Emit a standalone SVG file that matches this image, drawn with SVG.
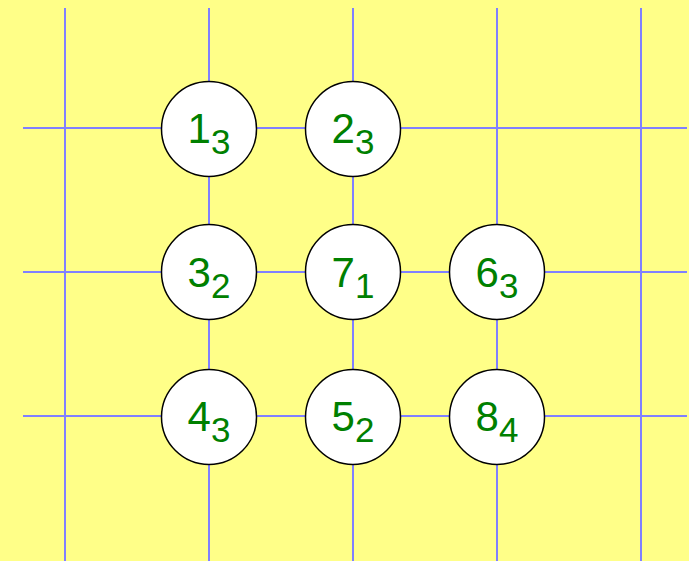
<svg xmlns="http://www.w3.org/2000/svg" width="689" height="561" viewBox="0 0 689 561">
<style>
.grid line{stroke:#8080ff;stroke-width:2}
.node circle{fill:#fff;stroke:#000;stroke-width:1.5}
.node text{font-family:"Liberation Sans",Arial,sans-serif;font-size:42px;fill:#008000;text-anchor:middle}
.node tspan{font-size:35px}
</style>
<rect width="689" height="561" fill="#ffff88"/>
<g id="connectors" class="grid">
<line x1="65" y1="8" x2="65" y2="561"/>
<line x1="209" y1="8" x2="209" y2="561"/>
<line x1="353" y1="8" x2="353" y2="561"/>
<line x1="497" y1="8" x2="497" y2="561"/>
<line x1="641" y1="8" x2="641" y2="561"/>
<line x1="23" y1="128" x2="687" y2="128"/>
<line x1="23" y1="272" x2="687" y2="272"/>
<line x1="23" y1="416" x2="687" y2="416"/>
</g>
<g id="n1" class="node"><circle cx="209" cy="129" r="47.5"/><text x="209" y="143">1<tspan dy="11">3</tspan></text></g>
<g id="n2" class="node"><circle cx="353" cy="129" r="47.5"/><text x="353" y="143">2<tspan dy="11">3</tspan></text></g>
<g id="n3" class="node"><circle cx="209" cy="272" r="47.5"/><text x="209" y="287">3<tspan dy="11">2</tspan></text></g>
<g id="n7" class="node"><circle cx="353" cy="272" r="47.5"/><text x="353" y="287">7<tspan dy="11">1</tspan></text></g>
<g id="n6" class="node"><circle cx="497" cy="272" r="47.5"/><text x="497" y="287">6<tspan dy="11">3</tspan></text></g>
<g id="n4" class="node"><circle cx="209" cy="417" r="47.5"/><text x="209" y="431">4<tspan dy="11">3</tspan></text></g>
<g id="n5" class="node"><circle cx="353" cy="417" r="47.5"/><text x="353" y="431">5<tspan dy="11">2</tspan></text></g>
<g id="n8" class="node"><circle cx="497" cy="417" r="47.5"/><text x="497" y="431">8<tspan dy="11">4</tspan></text></g>
</svg>
